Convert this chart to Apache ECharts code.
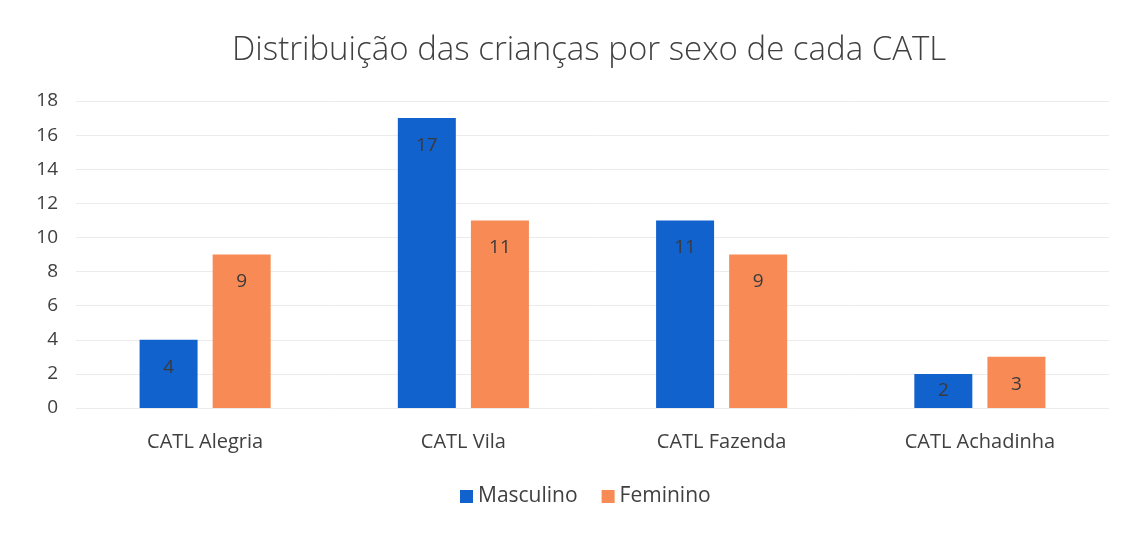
<!DOCTYPE html>
<html>
<head>
<meta charset="utf-8">
<script src="https://cdn.jsdelivr.net/npm/echarts@6/dist/echarts.min.js"></script>
<style>
  html, body { margin: 0; padding: 0; background: #ffffff; }
  #chart { width: 1138px; height: 533px; }
</style>
</head>
<body>
<div id="chart"></div>
<script>
// Number of children per CATL, by sex
const categories = ['CATL Alegria', 'CATL Vila', 'CATL Fazenda', 'CATL Achadinha'];
const masculino = [4, 17, 11, 2];
const feminino = [9, 11, 9, 3];
const seriesNames = ['Masculino', 'Feminino'];

const FONT = '"Open Sans", Lato, sans-serif';
const chart = echarts.init(document.getElementById('chart'), null, { renderer: 'canvas' });

const barLabel = {
  show: true,
  position: 'insideTop',
  distance: 18,
  color: '#3a3a3a',
  fontSize: 19,
  fontFamily: FONT
};

// Keep value labels inside short bars: centre them when they would spill out
function keepInside(params) {
  const r = params.rect;
  const l = params.labelRect;
  if (l.y + l.height > r.y + r.height - 2) {
    return {
      x: r.x + r.width / 2,
      y: r.y + r.height / 2,
      align: 'center',
      verticalAlign: 'middle'
    };
  }
  return {};
}

chart.setOption({
  backgroundColor: '#ffffff',
  animation: false,
  title: {
    text: 'Distribuição das crianças por sexo de cada CATL',
    left: 227,
    top: 29,
    textStyle: { color: '#404040', fontSize: 33, fontWeight: 300, fontFamily: FONT }
  },
  legend: {
    data: seriesNames,
    bottom: 21,
    left: 455,
    itemWidth: 13,
    itemHeight: 13,
    itemGap: 24,
    icon: 'rect',
    textStyle: { color: '#404040', fontSize: 21, fontFamily: FONT }
  },
  grid: { left: 76, right: 29, top: 101, bottom: 125 },
  xAxis: {
    type: 'category',
    data: categories,
    axisLine: { show: false },
    axisTick: { show: false },
    axisLabel: { color: '#404040', fontSize: 20, fontFamily: FONT, margin: 24 }
  },
  yAxis: {
    type: 'value',
    min: 0,
    max: 18,
    interval: 2,
    axisLine: { show: false },
    axisTick: { show: false },
    axisLabel: { color: '#404040', fontSize: 19, fontFamily: FONT, margin: 18 },
    splitLine: { lineStyle: { color: '#ececec', width: 1 } }
  },
  series: [
    {
      name: seriesNames[0],
      type: 'bar',
      data: masculino,
      barWidth: 58,
      barGap: '26%',
      itemStyle: { color: '#1262CE' },
      label: barLabel,
      labelLayout: keepInside
    },
    {
      name: seriesNames[1],
      type: 'bar',
      data: feminino,
      barWidth: 58,
      itemStyle: { color: '#F78A55' },
      label: barLabel,
      labelLayout: keepInside
    }
  ]
});
</script>
</body>
</html>
